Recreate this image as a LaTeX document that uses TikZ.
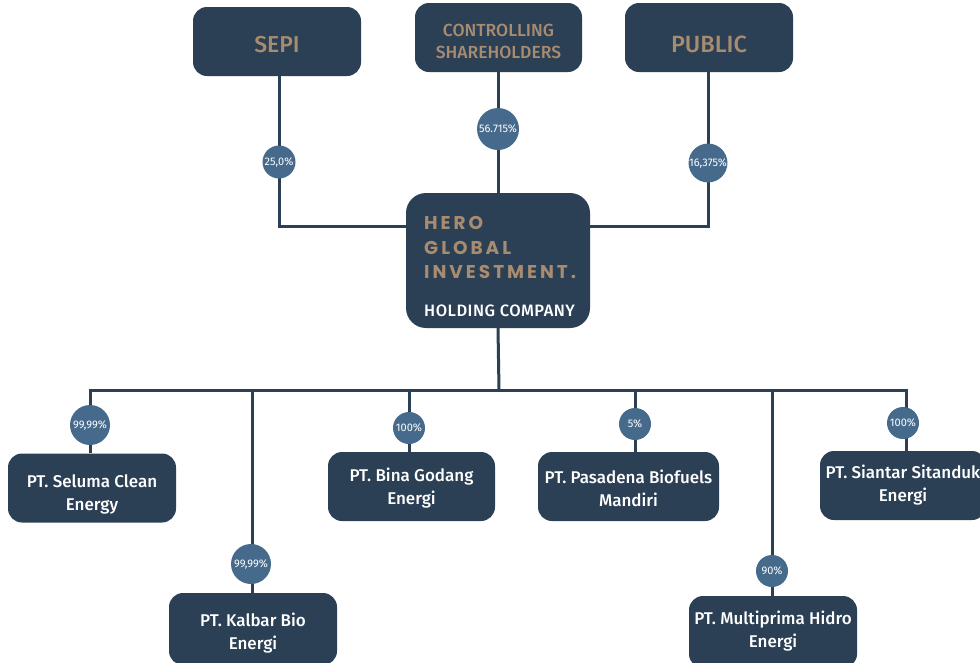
\documentclass[tikz,border=0pt]{standalone}
\usepackage{fontspec}
\setmainfont{Fira Sans}[BoldFont={Fira Sans Medium}]
\newfontfamily\herofont{Poppins}[LetterSpace=16]
\newfontfamily\holdfont{Fira Sans Medium}[LetterSpace=3]
\definecolor{navy}{HTML}{2B3F55}
\definecolor{dot}{HTML}{456A8C}
\definecolor{tan}{HTML}{A88C70}
\begin{document}
\begin{tikzpicture}[x=1pt,y=-1pt,
  box/.style={draw=none,fill=navy,rounded corners=14pt,inner sep=0pt},
  boxtext/.style={text=white,align=center,inner sep=0pt,font=\fontsize{17}{23}\selectfont\bfseries},
  topbox/.style={fill=navy,rounded corners=14pt,inner sep=0pt},
  toptext/.style={text=tan,align=center,inner sep=0pt},
  pct/.style={circle,fill=dot,text=white,inner sep=0pt,font=\fontsize{11}{12}\selectfont},
  link/.style={draw=navy,line width=3pt}]
\useasboundingbox (0,0) rectangle (980,662);
% top boxes
\node[topbox,minimum width=168pt,minimum height=69pt] (sepi) at (277,41.5) {};
\node[toptext,font=\fontsize{23}{26}\selectfont\bfseries] (sepiT) at (277,45) {SEPI};
\node[topbox,minimum width=167pt,minimum height=69pt] (ctrl) at (498.5,37.5) {};
\node[toptext,font=\fontsize{17.5}{22}\selectfont\bfseries] (ctrlT) at (498.5,41.5) {CONTROLLING\\SHAREHOLDERS};
\node[topbox,minimum width=168pt,minimum height=69pt] (pub) at (709,37.5) {};
\node[toptext,font=\fontsize{23.5}{26}\selectfont\bfseries] (pubT) at (709,44.5) {PUBLIC};
% hero
\node[fill=navy,rounded corners=20pt,minimum width=184pt,minimum height=135pt,inner sep=0pt] (hero) at (498,260.5) {};
\node[anchor=west,text=tan,inner sep=0pt,font=\herofont\fontsize{18.5}{20}\selectfont\bfseries] (h1) at (424,223) {HERO};
\node[anchor=west,text=tan,inner sep=0pt,font=\herofont\fontsize{18.5}{20}\selectfont\bfseries] (h2) at (424,248) {GLOBAL};
\node[anchor=west,text=tan,inner sep=0pt,font=\herofont\fontsize{18.5}{20}\selectfont\bfseries] (h3) at (424,272) {INVESTMENT.};
\node[anchor=west,text=white,inner sep=0pt,font=\holdfont\fontsize{16.5}{18}\selectfont] (h4) at (424,311) {HOLDING COMPANY};
% connectors top
\coordinate (sepiJ) at (279,226);
\coordinate (pubJ) at (708,226);
\draw[link] (sepi.south -| sepiJ) -- (sepiJ) -- (sepiJ -| hero.west);
\draw[link] (pub.south -| pubJ) -- (pubJ) -- (pubJ -| hero.east);
\draw[link] (ctrl.south -| hero.north) -- (hero.north);
\node[pct,minimum size=33pt] (p1) at (279,162) {25,0\%};
\node[pct,minimum size=42pt] (p2) at (498,129) {56.715\%};
\node[pct,minimum size=38pt] (p3) at (708,163) {16,375\%};
% bottom boxes
\node[box,minimum width=168pt,minimum height=69pt] (b1) at (92,488) {};
\node[boxtext] (t1) at (92,494.5) {PT. Seluma Clean\\Energy};
\node[box,minimum width=168pt,minimum height=72pt] (b2) at (253,629) {};
\node[boxtext] (t2) at (253,633) {PT. Kalbar Bio\\Energi};
\node[box,minimum width=167pt,minimum height=69pt] (b3) at (411.5,486.5) {};
\node[boxtext] (t3) at (411.5,488.5) {PT. Bina Godang\\Energi};
\node[box,minimum width=181pt,minimum height=69pt] (b4) at (628.5,486.5) {};
\node[boxtext] (t4) at (628.5,488) {PT. Pasadena Biofuels\\Mandiri};
\node[box,minimum width=168pt,minimum height=72pt] (b5) at (773,632) {};
\node[boxtext] (t5) at (773,631.5) {PT. Multiprima Hidro\\Energi};
\node[box,minimum width=166pt,minimum height=69pt] (b6) at (903,485.5) {};
\node[boxtext] (t6) at (903,485.5) {PT. Siantar Sitanduk\\Energi};
% bus
\coordinate (bus) at (499,390);
\coordinate (busL) at (90,390);
\coordinate (busR) at (906,390);
\draw[link] (hero.south) -- (bus);
\draw[link] (b1.north -| busL) -- (busL) -- (busR) -- (b6.north -| busR);
\draw[link] (252,390) -- (b2.north -| 252,0);
\draw[link] (409,390) -- (b3.north -| 409,0);
\draw[link] (635,390) -- (b4.north -| 635,0);
\draw[link] (772,390) -- (b5.north -| 772,0);
\node[pct,minimum size=40pt] (q1) at (90,425) {99,99\%};
\node[pct,minimum size=40pt] (q2) at (251,564) {99,99\%};
\node[pct,minimum size=32pt] (q3) at (409,428) {100\%};
\node[pct,minimum size=32pt] (q4) at (635,424) {5\%};
\node[pct,minimum size=32pt] (q5) at (772,571) {90\%};
\node[pct,minimum size=32pt] (q6) at (903,423) {100\%};
\end{tikzpicture}
\end{document}
